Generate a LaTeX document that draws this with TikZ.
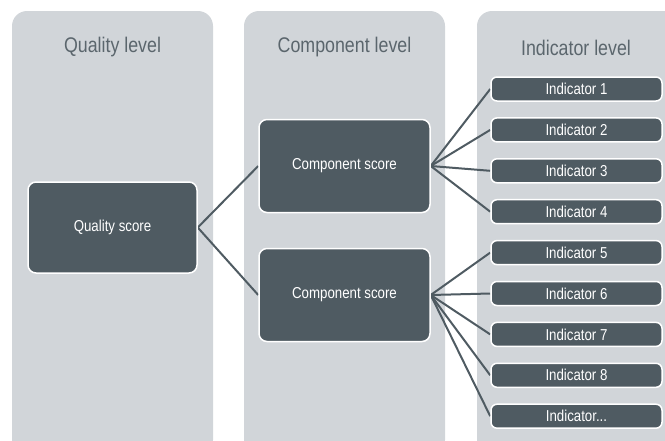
\documentclass[tikz,border=0pt]{standalone}
\usepackage{fontspec}
\setmainfont[FakeStretch=0.84]{Liberation Sans}
\usetikzlibrary{backgrounds}
\pgfdeclarelayer{links}
\pgfsetlayers{background,links,main}
\begin{document}
\begin{tikzpicture}[x=1pt,y=-1pt,
  panel/.style={fill=panelgray,draw=none,rounded corners=15pt},
  title/.style={text=titlegray,font=\fontsize{21.2}{24}\selectfont,anchor=center},
  bigbox/.style={fill=boxdark,draw=white,line width=1.5pt,rounded corners=8pt,
    minimum width=171pt,minimum height=93pt,text=white,
    font=\fontsize{15.8}{18}\selectfont,inner sep=0pt},
  indbox/.style={fill=boxdark,draw=white,line width=1.5pt,rounded corners=6pt,
    minimum width=171pt,minimum height=24pt,text=white,
    font=\fontsize{15.8}{18}\selectfont,inner sep=0pt},
  link/.style={draw=boxdark,line width=2pt}]
\definecolor{panelgray}{HTML}{D1D5D9}
\definecolor{boxdark}{HTML}{4F5B62}
\definecolor{titlegray}{HTML}{5B666D}
\useasboundingbox (0,0) rectangle (665,440);
\begin{pgfonlayer}{background}
\clip (0,0) rectangle (665,440);
\fill[panel] (12,11) rectangle (213,455);
\fill[panel] (244,11) rectangle (445,455);
\fill[panel] (477,11) rectangle (678,455);
\end{pgfonlayer}
\node[title] (t1) at (112.5,47.5) {Quality level};
\node[title] (t2) at (344.5,47.5) {Component level};
\node[title] (t3) at (576,47.5) {Indicator level};
\node[bigbox,minimum width=169pt,minimum height=91pt] (q) at (112.5,227.5) {Quality score};
\node[bigbox] (c1) at (344.5,166) {Component score};
\node[bigbox] (c2) at (344.5,295) {Component score};
\foreach \i/\y in {1/89,2/129.9,3/170.8,4/211.7,5/252.6,6/293.5,7/334.4,8/375.3}
  \node[indbox] (i\i) at (576.5,\y) {Indicator \i};
\node[indbox] (i9) at (576.5,416.2) {Indicator...};
\begin{pgfonlayer}{links}
\draw[link] (q.east) -- (c1.west);
\draw[link] (q.east) -- (c2.west);
\foreach \i in {1,2,3,4} \draw[link] (c1.east) -- (i\i.west);
\foreach \i in {5,6,7,8,9} \draw[link] (c2.east) -- (i\i.west);
\end{pgfonlayer}
\end{tikzpicture}
\end{document}
